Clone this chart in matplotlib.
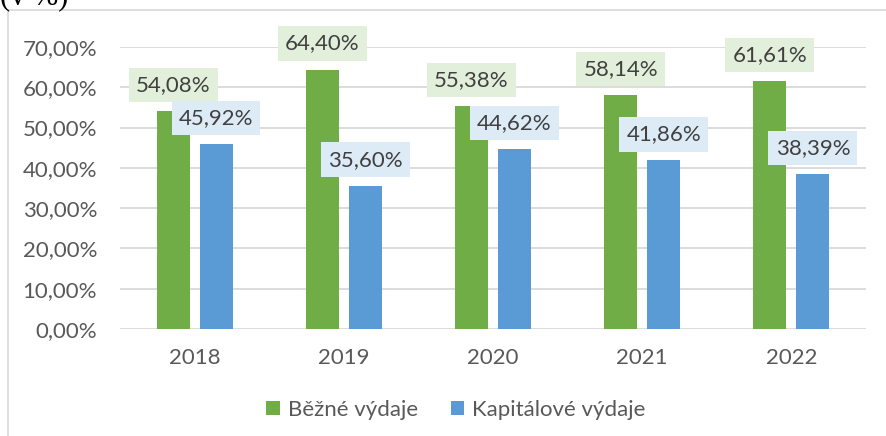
import matplotlib
import numpy as np

matplotlib.use("Agg")
import matplotlib.pyplot as plt
from matplotlib.patches import Rectangle

years = ["2018", "2019", "2020", "2021", "2022"]
bezne = [54.08, 64.40, 55.38, 58.14, 61.61]
kapitalove = [45.92, 35.60, 44.62, 41.86, 38.39]
series_names = ["Běžné výdaje", "Kapitálové výdaje"]
y_ticks = [0, 10, 20, 30, 40, 50, 60, 70]

GREEN = "#70AD47"
BLUE = "#5B9BD5"
GREEN_BG = "#E2EFDA"
BLUE_BG = "#DDEBF7"
TEXT = "#595959"
GRID = "#D9D9D9"
FS = 16

plt.rcParams["font.family"] = ["Lato", "DejaVu Sans"]

W, H = 886, 436
fig = plt.figure(figsize=(W / 100, H / 100), dpi=100)

# chart frame (cut by the image edge on right/bottom)
fig.patches.append(
    Rectangle((8 / W, -0.2), 1.2, 1.2 - 10 / H, transform=fig.transFigure,
              fill=False, edgecolor=GRID, lw=1.2)
)
fig.text(0 / W, 1 - 4 / H, "(v %)", family="Liberation Serif", fontsize=22,
         color="#000000", va="baseline", ha="left")

ax = fig.add_axes([120 / W, 1 - 329 / H, (866 - 120) / W, (329 - 47) / H])
x = np.arange(len(years))
w = 0.221
off = 0.144
b1 = ax.bar(x - off, bezne, w, color=GREEN, zorder=3, label=series_names[0])
b2 = ax.bar(x + off, kapitalove, w, color=BLUE, zorder=3, label=series_names[1])

for bars, vals, bg in [(b1, bezne, GREEN_BG), (b2, kapitalove, BLUE_BG)]:
    for rect, v in zip(bars, vals):
        ax.annotate(f"{v:.2f}%".replace(".", ","),
                    (rect.get_x() + rect.get_width() / 2, v),
                    xytext=(0, 11.5), textcoords="offset points",
                    ha="center", va="bottom", fontsize=FS, color="#404040",
                    bbox=dict(boxstyle="square,pad=0.32", fc=bg, ec="none"),
                    zorder=5, annotation_clip=False)

ax.set_xlim(-0.5, len(years) - 0.5)
ax.set_ylim(0, 70)
ax.set_yticks(y_ticks)
ax.set_yticklabels([f"{t:.2f}%".replace(".", ",") for t in y_ticks])
ax.set_xticks(x)
ax.set_xticklabels(years)
ax.tick_params(axis="both", length=0, labelsize=FS, colors=TEXT)
ax.tick_params(axis="y", pad=16.5)
ax.tick_params(axis="x", pad=14)
ax.grid(axis="y", color=GRID, lw=1.3, zorder=0)
for s in ax.spines.values():
    s.set_visible(False)

fig.legend(loc="center", bbox_to_anchor=(456 / W, 1 - 410 / H), ncol=2,
           frameon=False, fontsize=FS, labelcolor=TEXT,
           handlelength=0.6, handleheight=0.6, handletextpad=0.35,
           columnspacing=1.5)

fig.savefig("out.png", dpi=100)
